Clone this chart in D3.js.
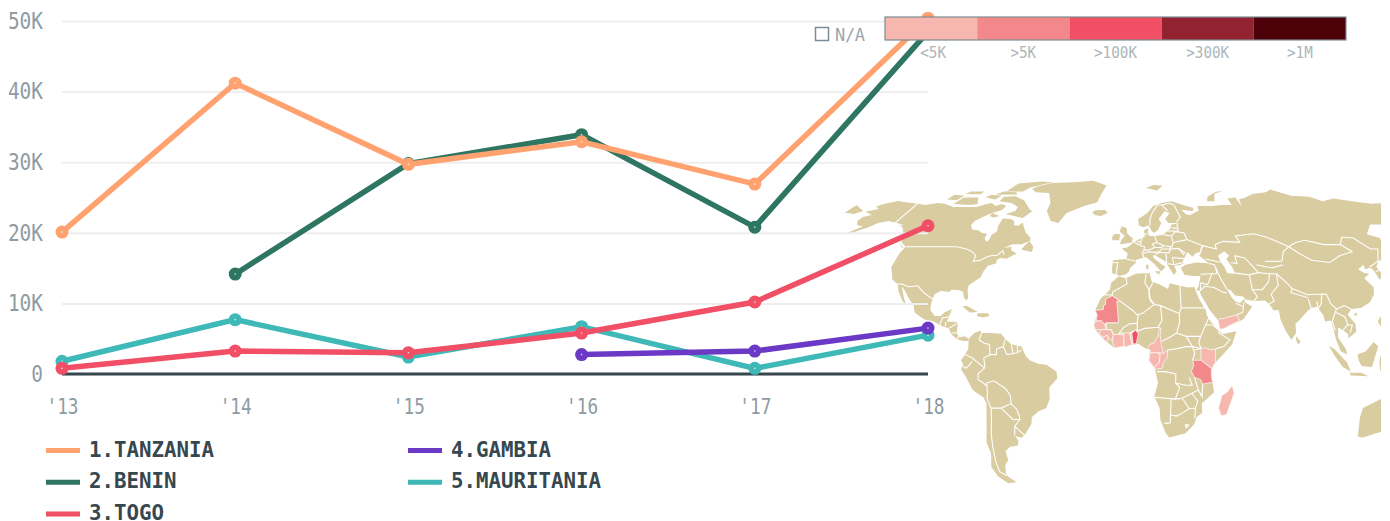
<!DOCTYPE html>
<html>
<head>
<meta charset="utf-8">
<script src="https://cdn.jsdelivr.net/npm/d3@7"></script>
<style>
  html, body { margin: 0; padding: 0; background: #fff; overflow: hidden; }
  text { font-family: "DejaVu Sans Mono", monospace; }
</style>
</head>
<body>
<div id="chartContainer"></div>
<script>
// chart values
const years = ["'13", "'14", "'15", "'16", "'17", "'18"];
const yTicks = [0, 10000, 20000, 30000, 40000, 50000];

const tanzania = [20100, 41200, 29700, 32900, 26900, 50400];
const benin = [null, 14150, 29800, 33900, 20800, 48500];
const togo = [800, 3250, 3000, 5800, 10200, 21000];
const gambia = [null, null, null, 2750, 3250, 6500];
const mauritania = [1800, 7700, 2400, 6700, 800, 5500];

const scaleLabels = ["<5K", ">5K", ">100K", ">300K", ">1M"];
const scaleColors = ["#f5b7ae", "#f3888a", "#f04f64", "#932230", "#4c0008"];

// map outlines as [lon, lat]
const landRings = [
  // north america
  [[-168,65.6],[-164,66.5],[-162,67],[-166,68.3],[-163,69.5],[-157,71.2],[-150,70.5],[-141,69.7],[-135,69],[-128,70],[-123,69.7],[-115,68],[-108,68],[-100,68],[-95,69.5],[-92,70],[-88,68.5],[-85,69.5],[-81,68.5],[-82,66.5],[-87,65],[-90,63.5],[-94,61],[-94.5,59],[-92,57],[-88,56.5],[-85,55.3],[-82,55],[-82,52.9],[-80,51.3],[-79,52],[-79,54.5],[-77,56],[-78,58.5],[-78,60.5],[-78,62.3],[-73,62],[-70,61],[-69,59],[-66,58.7],[-64.5,60.3],[-62,57.5],[-60,55.5],[-56,53],[-56,51.5],[-60,50.2],[-65,50.2],[-69,48.5],[-65,49],[-64.5,47.5],[-61,46],[-65.5,43.7],[-69,44],[-70.5,43],[-70,41.7],[-74,40.5],[-75.5,38],[-76,35.5],[-78,34],[-81,32],[-81,30],[-80,26.5],[-80.5,25.2],[-82,26.5],[-83,29],[-85,29.8],[-89,30],[-90,29],[-94,29.5],[-97,28],[-97.7,24],[-97.5,21],[-95,18.5],[-92,18.5],[-90.5,20],[-87,21.5],[-88,18],[-88.7,16],[-84,15.8],[-83.3,14.5],[-83.5,11],[-82,9],[-79.5,9.5],[-77.5,8.5],[-78,7.5],[-80,7.5],[-83,8.2],[-85.5,10],[-87.5,13],[-92,14.5],[-95,16],[-100,17],[-105,20],[-106,23],[-109,26],[-112.5,30],[-114.5,31.5],[-112,27],[-110,23.5],[-112,25],[-115,29],[-117,32.5],[-120.5,34.5],[-122,37],[-124,40],[-124,46],[-123,49],[-127,51],[-130,55],[-134,58],[-140,60],[-146,61],[-151,60],[-154,58],[-160,55.5],[-163,55],[-158,58.5],[-162,59],[-165,61],[-165,63],[-161,64]],
  // greenland and arctic islands
  [[-73,78],[-68,76],[-58,75.5],[-53,70],[-53,66],[-48,61],[-43,60],[-40,65],[-30,68.5],[-22,70.5],[-20,76],[-18,80],[-30,83.5],[-45,82.5],[-62,81.8],[-70,79.5]],
  [[-90,76.5],[-78,76.5],[-75,79],[-62,82.5],[-72,83],[-88,81.5]],
  [[-80,73.7],[-72,71.5],[-64,66.5],[-62,66],[-66,62.5],[-72,63.5],[-78,64.5],[-73,66],[-73,68],[-79,70],[-88,71],[-88,73.5]],
  [[-117,69.5],[-105,69],[-101,69.5],[-105,73],[-115,73]],
  [[-125,72],[-118,71.5],[-116,74],[-124,74.5]],
  [[-95,74.5],[-80,74.7],[-82,76],[-92,76.5]],
  [[-100,73],[-92,72],[-90,74],[-98,74.5]],
  [[-117,75],[-106,74.8],[-106,76.5],[-116,76.5]],
  [[-59,47.7],[-53,46.7],[-53,49],[-56,51.5],[-58,49.5]],
  [[-87,65],[-81,63.5],[-84,62.7],[-87,63.5]],
  [[-128,50.7],[-123.5,48.4],[-125,48.8]],
  // caribbean
  [[-85,22],[-80,23],[-74.2,20.2],[-78,20],[-82,22.5]],
  [[-74.4,19.7],[-69,19.7],[-68.4,18.5],[-71.5,17.8],[-74.4,18.4]],
  // south america
  [[-77.5,8.5],[-75,11],[-72,12],[-71.5,11],[-68,11],[-62,10.7],[-60,8.5],[-57,6],[-52,5],[-50,1],[-48,-1],[-44,-2.5],[-40,-3],[-35.2,-6],[-35,-9],[-39,-13],[-39,-18],[-41,-22],[-45,-23.5],[-48.5,-26],[-49,-29],[-53,-33.5],[-55,-35],[-58,-34.3],[-57,-36.5],[-58,-38.5],[-62,-39],[-65,-41],[-65,-45],[-67.5,-47],[-69,-51],[-68.5,-52.5],[-65,-55],[-70,-55.5],[-74,-52.5],[-75.5,-48],[-73,-42],[-73.5,-37],[-71.5,-30],[-70,-20],[-71,-17.5],[-76,-14],[-79,-8],[-81,-5],[-80,-2.5],[-81,-1],[-79,1.5],[-77.5,4],[-77.5,7]],
  // africa
  [[-5.9,35.8],[-2,35],[3,37],[10,37.3],[11,33.5],[15,32.3],[19,30.3],[20,32.8],[25,31.7],[29,31],[32.3,31.2],[32.5,30],[34,26],[37,21],[37.5,18.5],[39.5,15.5],[43,12],[44.5,10.5],[51.3,11.8],[49,6],[45,2],[41,-2],[39,-5],[39.5,-10],[40.7,-15],[35,-20],[35.5,-24],[32.8,-26],[32,-29],[28,-33],[20,-34.9],[18,-33],[15,-27],[14.5,-22],[11.8,-17],[13.5,-11],[12,-5],[9,-1],[9.5,3.5],[7,4.4],[4,6.3],[-2,5],[-7.5,4.4],[-13,8.5],[-16.8,12.5],[-17.5,14.7],[-16,19],[-17,21],[-14.5,26],[-10,30],[-9.5,33]],
  // eurasia
  [[-9,37],[-9.3,39],[-9,43],[-2,43.5],[-1.2,46],[-4.5,48.3],[-1.5,48.7],[2,51],[4,52],[8.5,53.7],[8.2,56.5],[10.5,57.7],[10.5,55],[11,54],[14,54],[19,54.5],[21,56],[23.5,57.2],[24.5,59.2],[30,60],[23,60],[21.5,62],[25,65],[22,65.8],[17.5,62],[18.8,60],[16.5,57],[14.3,55.5],[12.7,56],[11,59],[8,58],[5.2,59],[5,62],[11,65],[15,68.5],[21,70],[28,71],[32,69.8],[41,67.5],[40,65.8],[35,66.5],[33,66.5],[35,64.3],[37.5,64],[40,64.8],[44,66.2],[44,68.5],[54,68.5],[60,69],[67,69],[67,72.5],[73,73],[73,68],[74.5,72],[80,73],[87,75],[98,76],[104,77.7],[113,74],[125,73.5],[130,71],[140,72.5],[150,71],[160,69.7],[170,70],[180,69],[180,65],[177,62.5],[170,60],[163,60],[163,57],[160,53],[157,51],[155.7,56],[156,58],[163,62],[155,59.3],[143,59.3],[135.5,54.7],[141,53],[140,48],[135,43.5],[131,42.7],[128,40],[129.5,36],[126.5,34.5],[126,37.5],[125,39.7],[121.5,39],[122,41],[118,39],[120,37.5],[122.5,37],[119,35],[122,31],[121,28],[118,24.5],[113,22],[108,21.5],[106,19],[109,15],[109,11.5],[105,8.7],[105,10.5],[102,12.5],[100.5,13.5],[100,9],[103.5,4],[104,1.5],[101,3],[99,8],[98.3,12],[97.5,16.5],[94.5,16],[94,19],[91.5,22.5],[89,21.8],[87,21],[82,16.5],[80,15],[80,11],[77.5,8],[75,12],[73,17],[72.7,21],[70,21],[68.5,23.5],[66.5,25.3],[61,25],[57,25.7],[56,27],[52,27.5],[50,30],[48.5,30],[50,27],[51.5,25],[54,24],[56.3,26],[56.5,24.5],[59.8,22.5],[55,17],[52,15.7],[45,12.8],[43.3,12.7],[42.7,16.5],[39,21],[35,28],[34.8,29.5],[32.9,29.8],[34.3,31.3],[36,36],[32,36],[28,36.5],[26.3,39.5],[29,41],[35,42],[41.5,41.5],[37,45],[39,47],[35,46],[33.5,44.5],[31,46.5],[28,43],[28,41.5],[26,40.8],[23,40.5],[24,38],[22.5,36.5],[19.5,41],[19.5,42],[14,45],[12.3,45.3],[12.5,44],[16,41.5],[18.5,40],[16,38],[12.5,41.5],[8.5,44.4],[3.2,43.2],[3,41.8],[0,39.5],[-0.5,38],[-2,36.8],[-5.5,36],[-7,37]],
  // chukotka, drawn past the date line
  [[-180,65],[-180,69],[-175,67.5],[-170,66],[-173,64.5],[-178,65]],
  // european and asian islands
  [[-5.5,50],[1,51],[1.7,52.7],[-1.5,55],[-2,57.7],[-5,58.5],[-6,56],[-3,54],[-5,52]],
  [[-10,52],[-6,52],[-5.7,54.7],[-8.5,55],[-10,54]],
  [[-24,65.5],[-22,64],[-18,63.5],[-14,65],[-16,66.5],[-22,66.3]],
  [[12,78.5],[20,77],[25,80],[18,80.3]],
  [[52,71],[57,71],[60,75],[68,77],[62,76.2],[54,73.5]],
  [[12.5,38],[15.5,38.2],[15,36.7]],
  [[8.3,41],[9.7,41],[9.5,39],[8.5,39]],
  [[120,16],[122,18.5],[122,16],[124,13],[121,14]],
  [[95.3,5.5],[98,4],[104,-2],[106,-6],[102,-4],[98,1]],
  [[105.5,-6.5],[111,-6.5],[114.5,-8],[106,-7.7]],
  [[109,1.5],[113,3],[117,7],[119,5],[117.5,1],[116,-4],[111,-3.5],[109.5,-1]],
  [[120,1],[125,1.5],[121,-1],[123,-5],[120,-5.5],[119.5,-2]],
  [[80,9.5],[82,7],[80.5,6],[79.8,8]],
  [[108.7,19],[110.5,20],[110.5,18.5]],
  // australia
  [[114,-22],[113.5,-26],[115.5,-34.5],[118,-35],[124,-33],[131,-31.5],[136,-35],[138.5,-35],[140,-38],[146,-39],[150,-37],[153,-31],[153,-25],[146,-19],[142.5,-11],[141,-17],[136,-15],[136,-12],[131,-11.5],[129,-15],[125,-14],[122,-18]]
];

const caspianRing = [[47,45],[51,47],[53,45],[51,43.5],[53,40],[54,37],[50,37.2],[49,40],[47.5,43]];

const borderLines = [
  // north and central america
  [[-141,69.7],[-141,60],[-135,59]],
  [[-123,49],[-95,49],[-89,48],[-84.5,46.5],[-82.5,45],[-82.5,42.5],[-79,43],[-76,44.5],[-74.5,45],[-71,45.2],[-69,47.3],[-67.5,45.5]],
  [[-117,32.5],[-114.8,32.5],[-111,31.3],[-106.5,31.7],[-103,29],[-99.5,27],[-97.2,25.9]],
  [[-92,14.6],[-91,17.8],[-89,17.8],[-88.3,18.5]],
  [[-89.2,15.9],[-89.2,14]],
  [[-87.5,13],[-84,15]],
  [[-85.7,11],[-83.7,11]],
  [[-83,8.3],[-82.6,9.5]],
  // south america
  [[-71.5,11],[-72.5,8],[-70,6.5],[-67.5,6],[-67,1.5],[-70,0],[-69.5,-4.2]],
  [[-79,1.5],[-75.5,0],[-70,-4.2]],
  [[-80.3,-3.4],[-78.5,-4.5],[-75.5,-1.5]],
  [[-69.5,-4.2],[-73,-7],[-73,-9.5],[-70.5,-11],[-69,-12.5]],
  [[-69,-11],[-69,-16],[-69.5,-17.5]],
  [[-69.5,-17.5],[-68,-22],[-68.5,-27],[-70,-33],[-71,-39],[-72,-46],[-72,-50],[-69,-52]],
  [[-69,-11],[-65.5,-10],[-60,-13.5],[-58,-16.5],[-58,-20]],
  [[-68,-22],[-63,-22],[-58,-20],[-55.5,-22.5],[-54.5,-25.5]],
  [[-63,-22],[-58,-27],[-54.5,-27],[-54.5,-25.5]],
  [[-54.5,-27],[-57.5,-30],[-53.5,-33.8]],
  [[-57.5,-30],[-58.3,-34]],
  [[-67,1.5],[-64,1.5],[-64,4],[-60.7,5],[-60,8.3]],
  [[-60.7,5],[-59,1.5],[-56,2],[-54,2.3],[-52,3.5]],
  [[-57,6],[-56,2]],
  [[-54,5.8],[-54,2.3]],
  // africa
  [[-2,35],[-1.5,32.5],[-8.7,29],[-8.7,27.3]],
  [[-13,27.7],[-8.7,27.7]],
  [[-8.7,27.3],[-4.8,25],[1.2,21],[3.3,19],[6,19.5],[12,23.5],[9.5,26.5],[9.5,30],[7.5,33],[8.3,37]],
  [[11.5,33],[9.5,30],[10,25],[12,23.5],[15,23],[24,19.5],[25,22],[25,31.7]],
  [[25,22],[36.9,22]],
  [[-5.5,15.5],[-11.5,15.5],[-11.5,12.5],[-9,12.3],[-8,10.3],[-5.5,10.4],[-3,13.5],[0,15],[3.5,15.3],[4,19],[3.3,19]],
  [[3.5,15.3],[3.5,11.7],[2.8,12.3]],
  [[3.5,11.7],[7,13],[13.5,13.5],[15.5,16.5],[15,23]],
  [[3.8,10.5],[2.8,6.4]],
  [[-3,11],[-5.5,10.4]],
  [[-0.2,11],[2.8,12.3]],
  [[15,13],[13.5,13.5]],
  [[24,19.5],[24,15.5],[22.5,11],[19,9],[15.5,7.5]],
  [[22.5,11],[27,9.5],[34,9.5],[36.5,14.5],[38.5,18]],
  [[27,9.5],[30,5],[34,4.2],[33,7],[34,9.5]],
  [[18,3.5],[22,4],[27,5],[30,5],[31,2],[30,-1]],
  [[28.5,-8.5],[30,-12],[27,-12],[22,-11],[22,-7],[17,-6],[13,-6]],
  [[22,-11],[24,-13],[22,-18],[12,-17.3]],
  [[22,-18],[25,-17.8],[30,-15.5],[33,-14],[31,-8.5]],
  [[25,-17.8],[20,-18],[20,-28.5],[17,-28.7]],
  [[20,-25],[23,-25.5],[26,-24],[29,-22.3],[25.5,-17.8]],
  [[29,-22.3],[32,-22],[33,-19],[30,-15.5]],
  [[32,-22],[32,-26.5]],
  [[33,-14],[35,-17],[35,-11.5]],
  [[31,3.5],[34,4.2]],
  [[36.5,14.5],[40,14.5],[43,12],[42.8,11],[48,8],[45,5],[41,4]],
  [[27.5,-29],[29.3,-29.5],[28,-30.5],[27.5,-29]],
  // europe
  [[-9,42],[-6.5,42],[-7,37.2]],
  [[-2,43.5],[3,42.5]],
  [[2.5,51],[6,49.5],[8,49],[7.5,47.5],[6.5,46.3],[7.5,44]],
  [[4,51.5],[6,51],[6,49.5]],
  [[7,53.5],[6,51]],
  [[8.5,55],[10,54.8]],
  [[14,54],[15,51],[12.3,50.3],[13.5,48.7],[10,47.5],[7.5,47.5]],
  [[15,51],[18.7,49.5],[23,49],[24,51],[23.5,54],[19,54.5]],
  [[18.7,49.5],[17,48.7],[13.5,48.7]],
  [[17,48],[22,48],[22,49]],
  [[7,46],[10.5,46.8],[13.7,46.5],[16,46.8],[17,48]],
  [[13.7,45.5],[16,46.5],[21,46.2],[22,48],[26.5,48.3],[29,45.3]],
  [[22.5,44.2],[28.5,43.7]],
  [[19.3,46],[19.3,42]],
  [[22.5,44.2],[23,41],[26.5,41.7],[28,42]],
  [[19.8,41.5],[23,41]],
  [[24,51],[32,52.3],[40,49.5],[38,47]],
  [[26.5,48.3],[30,46]],
  [[23.5,53.8],[26,56],[31,55.5],[32,52.3]],
  [[21,56.3],[28,56.2]],
  [[24.3,57.8],[27.5,57.5]],
  [[28,59.5],[28,56]],
  [[28,60.5],[31,63],[29,69],[26,70]],
  [[24,66],[21,69]],
  [[12,59],[12,61.5],[14,65],[18,69],[21,69],[26,70]],
  // russia, central and east asia
  [[38,47],[40,49.5],[47,48],[47,50],[52,51.5],[61,51],[60,54],[71,55],[77,53.5],[83,51],[87,49]],
  [[87,49],[83,47],[80,42.5]],
  [[87,49],[92,51],[98,52],[107,50],[116,50],[120,46.8],[112,45],[105,42],[96,43],[91,46],[87,49]],
  [[116,50],[120,53.5],[126,53],[131,48],[135,48],[131,43],[130.5,42.5]],
  [[124.5,40],[130.5,42.5]],
  [[126.5,38],[128.5,38.5]],
  [[40,43.5],[48,42]],
  [[41.5,41.5],[44,41],[44.5,39.5],[44.5,37]],
  [[36,36.8],[42,37],[44.5,37]],
  [[44.5,39.5],[46,35],[48.5,30]],
  [[61,36.5],[61,30],[63,27],[61,25]],
  [[54,37.3],[61,36.5]],
  [[53,42],[56,41.5],[56,45],[61,44],[66,37.5],[61,36.5]],
  [[66,37.5],[71,37],[75,37]],
  [[71,42.5],[80,42.5]],
  [[66,41],[71,40],[74,39.7],[80,41]],
  [[61,30],[66,30],[70,33.5],[71.5,37]],
  [[68.2,23.7],[71,25],[70,28],[74.5,32],[75,37]],
  [[75,37],[79,33],[81,30.5],[88,27.8],[92,28],[97,28]],
  [[81,30.5],[80,28.7],[88,26.5]],
  [[88,26],[88.5,22],[92,21.5],[92,25]],
  [[92,21.5],[94,24],[95,28],[97.5,28],[98.5,24],[101,21.5],[100,20],[98,16],[99,12]],
  [[101,21.5],[105,23],[108,21.5]],
  [[100.5,20],[104.5,18],[105.5,14]],
  [[102.5,12],[105,14.5],[107.5,14.5],[106,11]],
  // middle east
  [[34.9,29.5],[37.5,31.5],[42,31],[46,29],[48,28.5]],
  [[36,33],[39,32.2],[42,37]],
  [[35,29.5],[35.7,33.3]],
  [[52,19],[55,20],[55.5,22.5],[52,24]],
  [[56,24.5],[55.5,22.5]]
];

// countries with data, index into scaleColors
const senegal = [[-17.5,14.7],[-16.4,16.2],[-14,16.5],[-12.2,14.8],[-11.5,12.5],[-16.8,12.4]];
const guinea = [[-15,11],[-13.7,12.5],[-11.5,12.5],[-9,12.3],[-8,10],[-8.5,7.7],[-10,8.5],[-11,10],[-13,9]];
const sierraLeone = [[-13.3,9],[-11,10],[-10.5,8.4],[-11.5,6.9]];
const ivoryCoast = [[-8.5,7.7],[-8,10.3],[-5.5,10.4],[-3,10],[-2.8,5.2],[-7.5,4.4]];
const ghana = [[-3,11],[-0.2,11],[1,6],[-2,4.8],[-2.8,5.2]];
const togoLand = [[0,11],[1,11],[1.7,6.2],[1,6]];
const beninLand = [[0.9,11],[2.8,12.3],[4,10.5],[3,6.3],[1.5,6.2]];
const cameroon = [[8.5,4.5],[9.7,3.5],[9.8,2.3],[16,2],[15,6],[14.5,10],[15,13],[14,12.5],[13.5,9.5],[11.5,6.5],[9.5,6]];
const gabon = [[9.5,1],[9.8,2.3],[13.2,2.3],[14.5,1.5],[14,-2.2],[11.5,-4],[9,-1]];
const congo = [[11.5,-4],[14,-2.2],[14.5,1.5],[13.2,2.3],[16,2],[18,3.5],[17.8,0],[16,-2],[15.5,-4.5],[12,-5]];
const kenya = [[34,4.2],[36,4.5],[39,3.5],[41,4],[41,-1.7],[39.2,-4.7],[34,-1]];
const tanzaniaLand = [[30,-1],[34,-1],[39.2,-4.7],[39,-7],[39.5,-10],[40.4,-10.5],[35,-11.5],[34,-9.5],[31,-8.5],[29.5,-6],[30.5,-3]];
const madagascar = [[49.3,-12],[50.4,-15.5],[47.5,-24.8],[45,-25.5],[43.3,-22],[44.5,-16.5],[47,-15]];
const yemen = [[42.7,16.5],[43.3,12.7],[45,12.8],[52,16],[53,16.6],[52,19],[48,18],[45,17.3],[43.5,17.3]];
const mauritaniaLand = [[-17,21],[-13,21.3],[-13,23],[-12,23.5],[-12,26],[-8.7,27.3],[-4.8,25],[-6.5,25],[-5.5,15.5],[-11.5,15.5],[-12.2,14.8],[-14,16.5],[-16.4,16.2],[-16,19]];

const mapCountries = [
  [senegal, 0], [guinea, 0], [sierraLeone, 0], [ivoryCoast, 0], [ghana, 0], [togoLand, 0],
  [cameroon, 0], [gabon, 0], [congo, 0], [kenya, 0], [madagascar, 0], [yemen, 0],
  [mauritaniaLand, 1], [tanzaniaLand, 1], [beninLand, 2]
];

// robinson table, every 5 degrees
const robLat = d3.range(0, 91, 5);
const robX = [1,.9986,.9954,.99,.9822,.973,.96,.9427,.9216,.8962,.8679,.835,.7986,.7597,.7186,.6732,.6213,.5722,.5322];
const robY = [0,.062,.124,.186,.248,.31,.372,.434,.4958,.5571,.6176,.6769,.7346,.7903,.8435,.8936,.9394,.9761,1];
const plen = d3.scaleLinear().domain(robLat).range(robX);
const pdfe = d3.scaleLinear().domain(robLat).range(robY);

function robinsonRaw(lambda, phi) {
  const deg = Math.abs(phi) * 180 / Math.PI;
  // the source map is a little flatter than a true robinson, hence 0.963
  return [0.8487 * lambda * plen(deg), Math.sign(phi) * 1.3523 * 0.963 * pdfe(deg)];
}

const width = 1390, height = 521;

const svg = d3.select("#chartContainer").append("svg")
  .attr("width", width)
  .attr("height", height)
  .style("display", "block");

// map sits behind everything
const projection = d3.geoProjection(robinsonRaw).scale(141).translate([1130, 358]);
const ringPath = ring => d3.line()(ring.map(d => projection(d))) + "Z";
const linePath = pts => d3.line()(pts.map(d => projection(d)));

svg.append("defs").append("clipPath").attr("id", "mapClip")
  .append("rect").attr("x", 780).attr("y", 170).attr("width", 601).attr("height", 330);

const map = svg.append("g").attr("clip-path", "url(#mapClip)");

map.selectAll("path.land")
  .data(landRings)
  .join("path")
  .attr("class", "land")
  .attr("d", ringPath)
  .attr("fill", "#d8cca0");

map.append("path")
  .attr("d", ringPath(caspianRing))
  .attr("fill", "#fff");

map.selectAll("path.border")
  .data(borderLines)
  .join("path")
  .attr("class", "border")
  .attr("d", linePath)
  .attr("fill", "none")
  .attr("stroke", "#fff")
  .attr("stroke-width", 1.1);

map.selectAll("path.country")
  .data(mapCountries)
  .join("path")
  .attr("class", "country")
  .attr("d", d => ringPath(d[0]))
  .attr("fill", d => scaleColors[d[1]])
  .attr("stroke", "#fff")
  .attr("stroke-width", 0.7);

// scales
const x = d3.scalePoint().domain(years).range([62, 928]);
const y = d3.scaleLinear().domain([0, 50000]).range([374, 21]);

function squeeze(sel, charWidth) {
  sel.attr("textLength", function() { return this.textContent.length * charWidth; })
    .attr("lengthAdjust", "spacingAndGlyphs");
}

// y axis with gridlines
const yAxis = svg.append("g")
  .attr("transform", "translate(62,0)")
  .call(d3.axisLeft(y)
    .tickValues(yTicks)
    .tickSize(-866)
    .tickPadding(19)
    .tickFormat(d => d === 0 ? "0" : d / 1000 + "K"));
yAxis.select(".domain").remove();
yAxis.selectAll("line").attr("stroke", "#eeeeee").attr("stroke-width", 2);
yAxis.selectAll("text")
  .attr("fill", "#8e9ba2")
  .style("font-size", "23px")
  .call(squeeze, 11.7);

// x axis
const xAxis = svg.append("g")
  .attr("transform", "translate(0,374)")
  .call(d3.axisBottom(x).tickSize(0).tickPadding(24));
xAxis.select(".domain").remove();
xAxis.selectAll("text")
  .attr("fill", "#8e9ba2")
  .style("font-size", "22px")
  .call(squeeze, 10.7);

svg.append("line")
  .attr("x1", x(years[0]))
  .attr("x2", x(years[5]))
  .attr("y1", y(0))
  .attr("y2", y(0))
  .attr("stroke", "#37474f")
  .attr("stroke-width", 3);

// series, listed in drawing order
const seriesList = [
  { values: benin, color: "#2e7562" },
  { values: mauritania, color: "#3fb8b8" },
  { values: gambia, color: "#6c38c6" },
  { values: tanzania, color: "#ffa270" },
  { values: togo, color: "#f04f65" }
];

const line = d3.line()
  .defined(d => d != null)
  .x((d, i) => x(years[i]))
  .y(d => y(d));

seriesList.forEach(s => {
  svg.append("path")
    .attr("d", line(s.values))
    .attr("fill", "none")
    .attr("stroke", s.color)
    .attr("stroke-width", 5.5);

  const pts = s.values.map((v, i) => ({ v, i })).filter(d => d.v != null);

  svg.selectAll(null).data(pts).join("circle")
    .attr("cx", d => x(years[d.i]))
    .attr("cy", d => y(d.v))
    .attr("r", 6.5)
    .attr("fill", s.color);

  svg.selectAll(null).data(pts).join("circle")
    .attr("cx", d => x(years[d.i]))
    .attr("cy", d => y(d.v))
    .attr("r", 0.8)
    .attr("fill", "#fff")
    .attr("opacity", 0.8);
});

// series legend
const legendNames = ["1.TANZANIA", "2.BENIN", "3.TOGO", "4.GAMBIA", "5.MAURITANIA"];
const legendColors = ["#ffa270", "#2e7562", "#f04f65", "#6c38c6", "#3fb8b8"];
const legendCol = d3.scaleOrdinal().domain([0, 1]).range([46, 408]);
const legendRow = d3.scalePoint().domain([0, 1, 2]).range([450.5, 514]);

const legendItem = svg.selectAll("g.legendItem")
  .data(legendNames)
  .join("g")
  .attr("class", "legendItem")
  .attr("transform", (d, i) => `translate(${legendCol(i < 3 ? 0 : 1)},${legendRow(i < 3 ? i : i - 3)})`);

legendItem.append("rect")
  .attr("y", -2.5)
  .attr("width", 34)
  .attr("height", 5)
  .attr("fill", (d, i) => legendColors[i]);

legendItem.append("text")
  .attr("x", 43)
  .attr("y", 6)
  .attr("fill", "#37474f")
  .style("font-size", "21px")
  .style("font-weight", "bold")
  .text(d => d)
  .call(squeeze, 12.5);

// colour scale legend
const band = d3.scaleBand().domain(scaleLabels).range([885, 1346]);

svg.selectAll("rect.scale")
  .data(scaleLabels)
  .join("rect")
  .attr("class", "scale")
  .attr("x", d => band(d))
  .attr("y", 17)
  .attr("width", band.bandwidth())
  .attr("height", 23)
  .attr("fill", (d, i) => scaleColors[i]);

svg.append("rect")
  .attr("x", 885)
  .attr("y", 17)
  .attr("width", 461)
  .attr("height", 23)
  .attr("fill", "none")
  .attr("stroke", "#7c8c94")
  .attr("stroke-width", 1.2);

svg.selectAll("text.scaleLabel")
  .data(scaleLabels)
  .join("text")
  .attr("class", "scaleLabel")
  .attr("x", (d, i) => band(d) + band.bandwidth() / 2 + (i === 0 ? 2 : 0))
  .attr("y", 58)
  .attr("text-anchor", "middle")
  .attr("fill", "#aeb5b9")
  .style("font-size", "16px")
  .text(d => d)
  .call(squeeze, 8.6);

svg.append("rect")
  .attr("x", 815.5)
  .attr("y", 27.5)
  .attr("width", 13)
  .attr("height", 13)
  .attr("fill", "none")
  .attr("stroke", "#7c8c94")
  .attr("stroke-width", 1.5);

svg.append("text")
  .attr("x", 835)
  .attr("y", 41)
  .attr("fill", "#9aa6ac")
  .style("font-size", "17px")
  .text("N/A")
  .attr("textLength", 30);
</script>
</body>
</html>
